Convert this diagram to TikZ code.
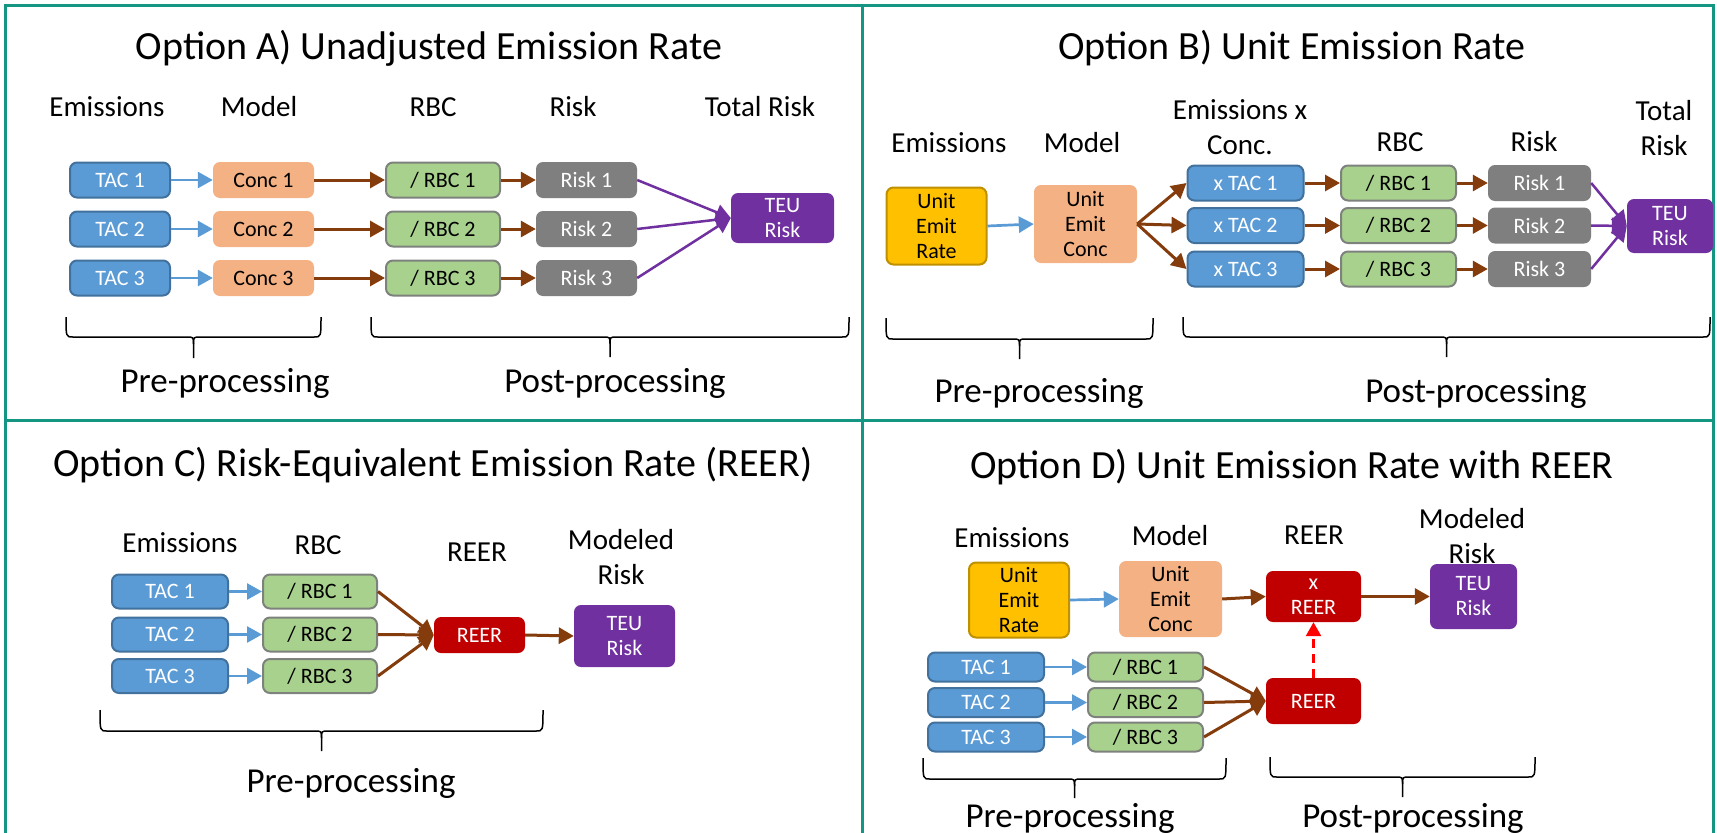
\documentclass[tikz,border=0pt]{standalone}
\usepackage{fontspec}
\setmainfont{Carlito}
\usetikzlibrary{arrows.meta}
\definecolor{tealb}{RGB}{20,150,130}
\definecolor{bluef}{RGB}{91,155,213}
\definecolor{blued}{RGB}{65,113,156}
\definecolor{concf}{RGB}{244,177,131}
\definecolor{rbcf}{RGB}{169,209,142}
\definecolor{rbcd}{RGB}{125,130,125}
\definecolor{riskf}{RGB}{127,127,127}
\definecolor{teuf}{RGB}{112,48,160}
\definecolor{reerf}{RGB}{192,0,0}
\definecolor{uerf}{RGB}{255,192,0}
\definecolor{uerd}{RGB}{191,144,0}
\definecolor{brownA}{RGB}{132,60,12}
\definecolor{redA}{RGB}{255,0,0}
\newcommand\mybrace[6]{%
  \draw[bracestyle] (#1,#3) .. controls (#1,#4) .. (#1+7,#4) -- (#5-7,#4) .. controls (#5,#4) .. (#5,#4+7) -- (#5,#6);
  \draw[bracestyle] (#5,#4+7) .. controls (#5,#4) .. (#5+7,#4) -- (#2-7,#4) .. controls (#2,#4) .. (#2,#3);}
\tikzset{
  box/.style={rectangle, rounded corners=7pt, inner sep=0pt, align=center, font=\fontsize{22}{25}\selectfont},
  tac/.style={box, fill=bluef, draw=blued, line width=2pt, text=white},
  conc/.style={box, fill=concf, text=black},
  rbc/.style={box, fill=rbcf, draw=rbcd, line width=2pt, text=black},
  riskb/.style={box, fill=riskf, text=white},
  teu/.style={box, fill=teuf, text=white},
  reer/.style={box, fill=reerf, text=white},
  uer/.style={box, fill=uerf, draw=uerd, line width=2pt, text=black},
  hdr/.style={font=\fontsize{29}{35}\selectfont, align=center},
  ttl/.style={font=\fontsize{40}{48}\selectfont},
  lbl/.style={font=\fontsize{35}{42}\selectfont},
  ab/.style={line width=2.7pt, bluef, -{Triangle[length=15pt,width=16pt]}},
  ar/.style={line width=3pt, brownA, -{Triangle[length=15pt,width=16pt]}},
  ap/.style={line width=2.5pt, teuf, -{Triangle[length=15pt,width=16pt]}},
  ad/.style={line width=2.5pt, redA, dashed, dash pattern=on 9pt off 6pt, -{Triangle[length=14pt,width=15pt]}},
  bracestyle/.style={line width=1.5pt, black},
}
\begin{document}
\begin{tikzpicture}[x=1pt,y=-1pt]
\useasboundingbox (0,0) rectangle (1717,833);
\clip (0,0) rectangle (1717,833);
\fill[white] (0,0) rectangle (1717,833);
% frames
\draw[tealb, line width=3pt] (5,5) rectangle (1713,845);
\draw[tealb, line width=3pt] (862,5) -- (862,845);
\draw[tealb, line width=3pt] (5,420) -- (1713,420);

% ---------------- Panel A ----------------
\node[ttl] (tA) at (429,48) {Option A) Unadjusted Emission Rate};
\node[hdr] (hA1) at (107,107) {Emissions};
\node[hdr] (hA2) at (259,107) {Model};
\node[hdr] (hA3) at (433,107) {RBC};
\node[hdr] (hA4) at (573,107) {Risk};
\node[hdr] (hA5) at (760,107) {Total Risk};
\foreach \i/\y in {1/180,2/229,3/278}{
  \node[tac, minimum width=100pt, minimum height=35pt] (aT\i) at (120,\y) {TAC \i};
  \node[conc, minimum width=101pt, minimum height=36pt] (aC\i) at (263.5,\y) {Conc \i};
  \node[rbc, minimum width=114pt, minimum height=35pt] (aR\i) at (443,\y) {/ RBC \i};
  \node[riskb, minimum width=101pt, minimum height=36pt] (aK\i) at (586.5,\y) {Risk \i};
}
\node[teu, minimum width=103pt, minimum height=50pt] (aTEU) at (782.5,218) {TEU\\Risk};
\foreach \i in {1,2,3}{
  \draw[ab] (aT\i.east) -- (aC\i.west);
  \draw[ar] (aC\i.east) -- (aR\i.west);
  \draw[ar] (aR\i.east) -- (aK\i.west);
  \draw[ap] (aK\i.east) -- (aTEU.west);
}
\mybrace{66}{321}{317}{337}{193.5}{358}
\mybrace{371}{849}{317}{337}{610}{357}
\node[lbl] (pA) at (225,383) {Pre-processing};
\node[lbl] (qA) at (615,383) {Post-processing};

% ---------------- Panel B ----------------
\node[ttl] (tB) at (1292,48) {Option B) Unit Emission Rate};
\node[hdr] (hB1) at (949,143) {Emissions};
\node[hdr] (hB2) at (1082,143) {Model};
\node[hdr] (hB3) at (1240,127) {Emissions x\\Conc.};
\node[hdr] (hB4) at (1400,142) {RBC};
\node[hdr] (hB5) at (1534,142) {Risk};
\node[hdr] (hB6) at (1664,128) {Total\\Risk};
\node[uer, minimum width=100pt, minimum height=77pt] (bU) at (936.5,226) {Unit\\Emit\\Rate};
\node[conc, minimum width=103pt, minimum height=78pt] (bC) at (1085.5,224) {Unit\\Emit\\Conc};
\foreach \i/\y in {1/183,2/225.5,3/269}{
  \node[tac, minimum width=116pt, minimum height=35pt] (bT\i) at (1245.5,\y) {x TAC \i};
  \node[rbc, minimum width=115pt, minimum height=35pt] (bR\i) at (1398.5,\y) {/ RBC \i};
  \node[riskb, minimum width=103pt, minimum height=36pt] (bK\i) at (1539.5,\y) {Risk \i};
}
\node[teu, minimum width=86pt, minimum height=54pt] (bTEU) at (1670,226) {TEU\\Risk};
\draw[ab] (bU.east) -- (bC.west);
\foreach \i in {1,2,3}{
  \draw[ar] (bC.east) -- (bT\i.west);
  \draw[ar] (bT\i.east) -- (bR\i.west);
  \draw[ar] (bR\i.east) -- (bK\i.west);
  \draw[ap] (bK\i.east) -- (bTEU.west);
}
\mybrace{886}{1153}{318}{339}{1019.5}{359}
\mybrace{1183}{1710}{317}{337}{1446.5}{357}
\node[lbl] (pB) at (1039,393) {Pre-processing};
\node[lbl] (qB) at (1476,393) {Post-processing};

% ---------------- Panel C ----------------
\node[ttl] (tC) at (433,465) {Option C) Risk-Equivalent Emission Rate (REER)};
\node[hdr] (hC1) at (180,543) {Emissions};
\node[hdr] (hC2) at (318,545) {RBC};
\node[hdr] (hC3) at (477,552) {REER};
\node[hdr] (hC4) at (621,557) {Modeled\\Risk};
\foreach \i/\y in {1/591.5,2/634.5,3/676}{
  \node[tac, minimum width=116pt, minimum height=34pt] (cT\i) at (170,\y) {TAC \i};
  \node[rbc, minimum width=114pt, minimum height=34pt] (cR\i) at (320,\y) {/ RBC \i};
}
\node[reer, minimum width=91pt, minimum height=36pt] (cE) at (479.5,635) {REER};
\node[teu, minimum width=101pt, minimum height=62pt] (cTEU) at (624.5,636) {TEU\\Risk};
\foreach \i in {1,2,3}{
  \draw[ab] (cT\i.east) -- (cR\i.west);
  \draw[ar] (cR\i.east) -- (cE.west);
}
\draw[ar] (cE.east) -- (cTEU.west);
\mybrace{100}{543}{710}{731}{321.5}{751}
\node[lbl] (pC) at (351,783) {Pre-processing};

% ---------------- Panel D ----------------
\node[ttl] (tD) at (1292,467) {Option D) Unit Emission Rate with REER};
\node[hdr] (hD1) at (1012,538) {Emissions};
\node[hdr] (hD2) at (1170,536) {Model};
\node[hdr] (hD3) at (1314,535) {REER};
\node[hdr] (hD4) at (1472,536) {Modeled\\Risk};
\node[uer, minimum width=100pt, minimum height=75pt] (dU) at (1019,600) {Unit\\Emit\\Rate};
\node[conc, minimum width=103pt, minimum height=76pt] (dC) at (1170.5,599) {Unit\\Emit\\Conc};
\node[reer, minimum width=95pt, minimum height=51pt] (dX) at (1313.5,596.5) {x\\REER};
\node[teu, minimum width=87pt, minimum height=65pt] (dTEU) at (1473.5,596.5) {TEU\\Risk};
\foreach \i/\y in {1/667,2/702.5,3/737}{
  \node[tac, minimum width=116pt, minimum height=29pt] (dT\i) at (986,\y) {TAC \i};
  \node[rbc, minimum width=115pt, minimum height=29pt] (dR\i) at (1145.5,\y) {/ RBC \i};
}
\node[reer, minimum width=95pt, minimum height=46pt] (dE) at (1313.5,701) {REER};
\draw[ab] (dU.east) -- (dC.west);
\draw[ar] (dC.east) -- (dX.west);
\draw[ar] (dX.east) -- (dTEU.west);
\foreach \i in {1,2,3}{
  \draw[ab] (dT\i.east) -- (dR\i.west);
  \draw[ar] (dR\i.east) -- (dE.west);
}
\draw[ad] (dE.north) -- (dX.south);
\mybrace{923}{1226}{758}{779}{1074.5}{798}
\mybrace{1270}{1535}{757}{777}{1402.5}{797}
\node[lbl] (pD) at (1070,818) {Pre-processing};
\node[lbl] (qD) at (1413,818) {Post-processing};
\end{tikzpicture}
\end{document}
